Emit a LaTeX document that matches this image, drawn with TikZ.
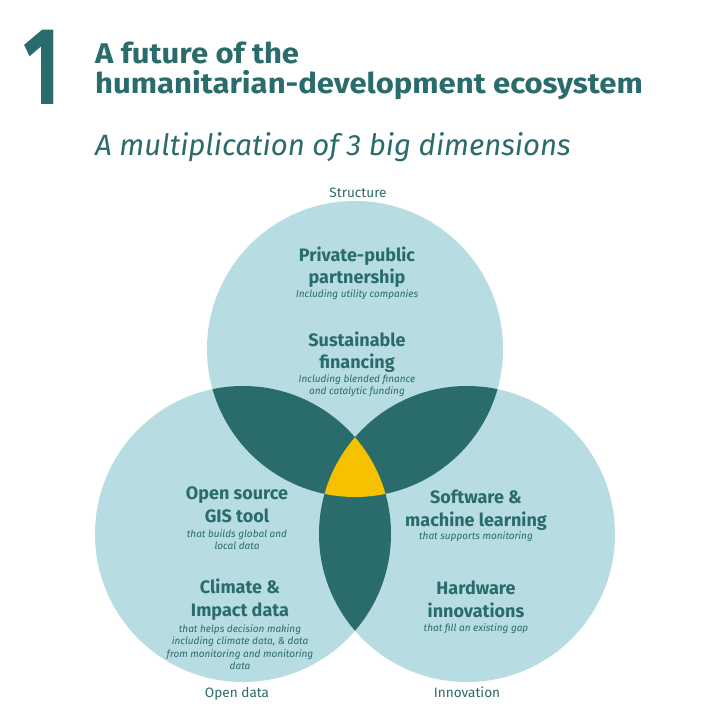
\documentclass[tikz,border=0pt]{standalone}
\usepackage{fontspec}
\setmainfont{Fira Sans}
\definecolor{tealdk}{HTML}{2A6B6B}
\definecolor{lightb}{HTML}{B7DDE2}
\definecolor{gold}{HTML}{F6C200}
\tikzset{
  head/.style={anchor=base,text=tealdk,inner sep=0pt,font=\fontsize{18}{20}\selectfont\bfseries},
  desc/.style={anchor=base,text=tealdk,inner sep=0pt,font=\fontsize{10}{11}\selectfont\itshape},
  dimlab/.style={anchor=base,text=tealdk,inner sep=0pt,font=\fontsize{13.6}{15}\selectfont},
  titl/.style={anchor=base west,inner sep=0pt,text=tealdk,font=\fontsize{28.5}{30}\selectfont\addfontfeature{FakeStretch=1.09}\bfseries},
}
\begin{document}
\begin{tikzpicture}[x=1pt,y=-1pt]
\useasboundingbox (0,0) rectangle (720,720);
\fill[white] (0,0) rectangle (720,720);
\coordinate (T) at (355,349);
\coordinate (L) at (243,534);
\coordinate (R) at (467,534);
\def\rr{148pt}
\fill[lightb] (T) circle[radius=\rr];
\fill[lightb] (L) circle[radius=\rr];
\fill[lightb] (R) circle[radius=\rr];
\begin{scope}
  \clip (T) circle[radius=\rr];
  \fill[tealdk] (L) circle[radius=\rr];
  \fill[tealdk] (R) circle[radius=\rr];
\end{scope}
\begin{scope}
  \clip (L) circle[radius=\rr];
  \fill[tealdk] (R) circle[radius=\rr];
\end{scope}
\begin{scope}
  \clip (T) circle[radius=\rr];
  \clip (L) circle[radius=\rr];
  \fill[gold] (R) circle[radius=\rr];
\end{scope}
% header
\node[anchor=base west,inner sep=0pt,text=tealdk,font=\fontsize{110}{110}\selectfont\addfontfeature{FakeStretch=0.72}\bfseries] (num) at (23,104) {1};
\node[titl] (t1) at (95,63) {A future of the};
\node[titl] (t2) at (95,93) {humanitarian-development ecosystem};
\node[anchor=base west,inner sep=0pt,text=tealdk,font=\fontsize{29.4}{32}\selectfont\itshape] (sub) at (95,155) {A multiplication of 3 big dimensions};
% labels
\node[dimlab] (ls) at (358,197) {Structure};
\node[dimlab] (lo) at (237,697) {Open data};
\node[dimlab] (li) at (467,697) {Innovation};
% top
\node[head] (a1) at (357,261) {Private-public};
\node[head] (a2) at (357,283) {partnership};
\node[desc] (a3) at (357,297) {Including utility companies};
\node[head] (b1) at (357,346) {Sustainable};
\node[head] (b2) at (357,368) {financing};
\node[desc] (b3) at (357,382) {Including blended finance};
\node[desc] (b4) at (357,394) {and catalytic funding};
% left
\node[head] (c1) at (237,499) {Open source};
\node[head] (c2) at (237,522) {GIS tool};
\node[desc] (c3) at (237,537) {that builds global and};
\node[desc] (c4) at (237,549) {local data};
\node[head] (d1) at (240,593) {Climate \&};
\node[head] (d2) at (240,616) {Impact data};
\node[desc] (d3) at (240,632) {that helps decision making};
\node[desc] (d4) at (240,644.5) {including climate data, \& data};
\node[desc] (d5) at (240,657) {from monitoring and monitoring};
\node[desc] (d6) at (240,669.5) {data};
% right
\node[head] (e1) at (476,503) {Software \&};
\node[head] (e2) at (476,526) {machine learning};
\node[desc] (e3) at (476,539) {that supports monitoring};
\node[head] (f1) at (476,594) {Hardware};
\node[head] (f2) at (476,617) {innovations};
\node[desc] (f3) at (476,631) {that fill an existing gap};
\end{tikzpicture}
\end{document}
